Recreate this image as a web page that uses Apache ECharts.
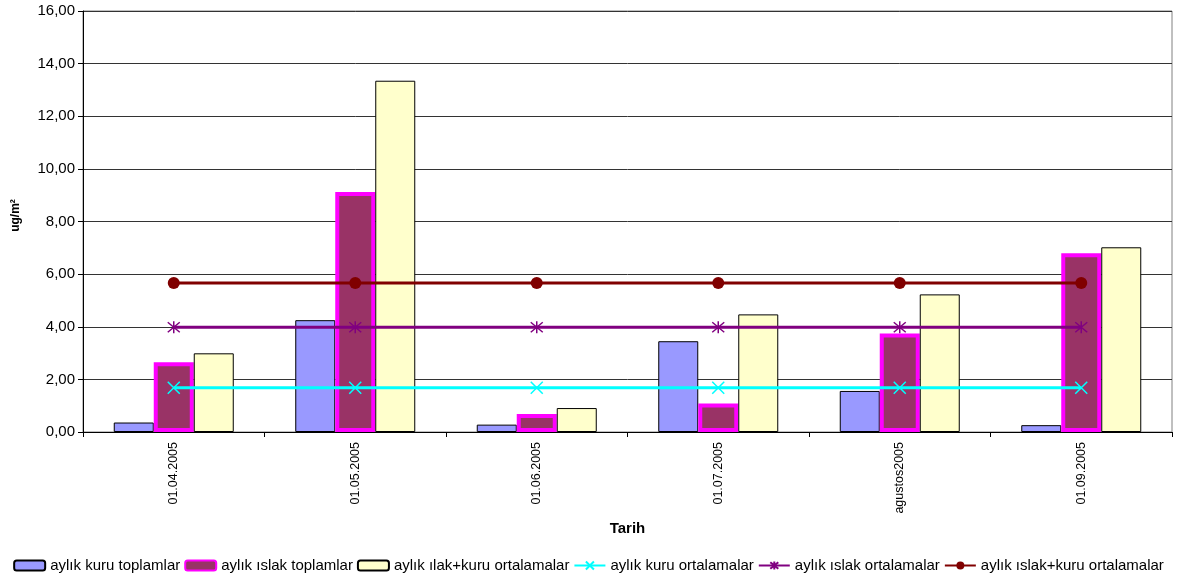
<!DOCTYPE html>
<html>
<head>
<meta charset="utf-8">
<script src="https://cdn.jsdelivr.net/npm/echarts@6/dist/echarts.min.js"></script>
<style>html,body{margin:0;padding:0;background:#fff}#c{width:1177px;height:582px}</style>
</head>
<body>
<div id="c"></div>
<script>
var categories = ['01.04.2005', '01.05.2005', '01.06.2005', '01.07.2005', 'agustos2005', '01.09.2005'];
var kuruToplam = [0.36, 4.25, 0.28, 3.45, 1.56, 0.26];
var islakToplam = [2.65, 9.12, 0.68, 1.08, 3.74, 6.79];
var ilakKuruOrt = [2.99, 13.35, 0.91, 4.47, 5.23, 7.02];
var kuruOrt = [1.68, 1.68, 1.68, 1.68, 1.68, 1.68];
var islakOrt = [3.98, 3.98, 3.98, 3.98, 3.98, 3.98];
var islakKuruOrt = [5.66, 5.66, 5.66, 5.66, 5.66, 5.66];
var seriesNames = ['aylık kuru toplamlar', 'aylık ıslak toplamlar', 'aylık ılak+kuru ortalamalar',
  'aylık kuru ortalamalar', 'aylık ıslak ortalamalar', 'aylık ıslak+kuru ortalamalar'];

var FONT = '"Liberation Sans", Arial, sans-serif';
var chart = echarts.init(document.getElementById('c'), null, {renderer: 'canvas'});
var xPath = 'path://M0,0L10,10M10,0L0,10';
var starPath = 'path://M0,0L10,10M10,0L0,10M5,-1L5,11';

chart.setOption({
  animation: false,
  textStyle: {fontFamily: FONT, color: '#000'},
  grid: {left: 83, right: 5, top: 11, bottom: 150, show: true, borderColor: '#808080', borderWidth: 1},
  legend: {
    bottom: 4, left: 'center', itemWidth: 31, itemHeight: 10, itemGap: 4,
    textStyle: {fontSize: 15, fontFamily: FONT, color: '#000'},
    data: seriesNames
  },
  xAxis: {
    type: 'category', data: categories,
    name: 'Tarih', nameLocation: 'middle', nameGap: 88,
    nameTextStyle: {fontWeight: 'bold', fontSize: 15, fontFamily: FONT, color: '#000'},
    axisLine: {lineStyle: {color: '#000', width: 1}},
    axisTick: {show: true, length: 5, lineStyle: {color: '#000'}},
    axisLabel: {rotate: 90, fontSize: 12.5, margin: 10, color: '#000', fontFamily: FONT}
  },
  yAxis: {
    type: 'value', min: 0, max: 16, interval: 2,
    name: 'ug/m²', nameLocation: 'middle', nameGap: 61, nameRotate: 90,
    nameTextStyle: {fontWeight: 'bold', fontSize: 12, fontFamily: FONT, color: '#000', padding: [0, 0, 0, 12]},
    axisLine: {show: true, lineStyle: {color: '#000', width: 1}},
    axisTick: {show: true, length: 5, lineStyle: {color: '#000'}},
    axisLabel: {fontSize: 15, color: '#000', margin: 8, fontFamily: FONT,
      formatter: function (v) { return v.toFixed(2).replace('.', ','); }},
    splitLine: {lineStyle: {color: '#333', width: 1}}
  },
  series: [
    {name: seriesNames[0], type: 'bar', data: kuruToplam, barWidth: 40, barGap: '0%',
      itemStyle: {color: '#9999FF', borderColor: '#000', borderWidth: 1}},
    {name: seriesNames[1], type: 'bar', data: islakToplam, barWidth: 40, barGap: '0%',
      itemStyle: {color: '#993366', borderColor: '#FF00FF', borderWidth: 4}},
    {name: seriesNames[2], type: 'bar', data: ilakKuruOrt, barWidth: 40, barGap: '0%',
      itemStyle: {color: '#FFFFCC', borderColor: '#000', borderWidth: 1}},
    {name: seriesNames[3], type: 'line', data: kuruOrt, symbol: xPath, symbolSize: 12,
      lineStyle: {color: '#00FFFF', width: 3},
      itemStyle: {color: '#00FFFF', borderColor: '#00FFFF', borderWidth: 1.5}, z: 5},
    {name: seriesNames[4], type: 'line', data: islakOrt, symbol: starPath, symbolSize: 12,
      lineStyle: {color: '#800080', width: 3},
      itemStyle: {color: '#800080', borderColor: '#800080', borderWidth: 1.5}, z: 5},
    {name: seriesNames[5], type: 'line', data: islakKuruOrt, symbol: 'circle', symbolSize: 12,
      lineStyle: {color: '#800000', width: 3},
      itemStyle: {color: '#800000', borderColor: '#800000', borderWidth: 0}, z: 5}
  ]
});
</script>
</body>
</html>
